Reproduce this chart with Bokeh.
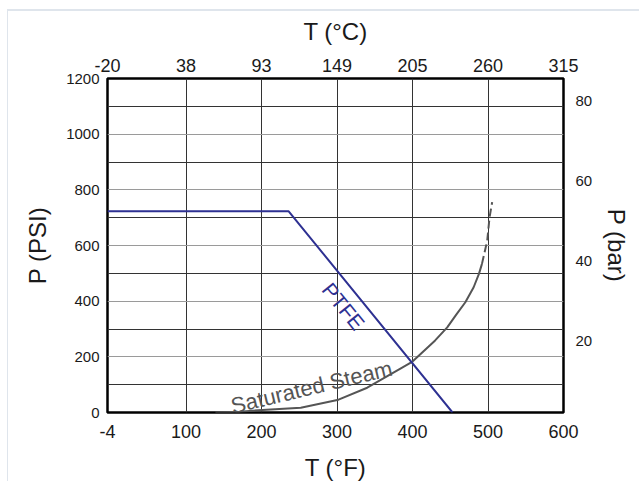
from bokeh.plotting import figure
from bokeh.models import LinearAxis, Range1d, FixedTicker, Grid, Label
from bokeh.embed import file_html
from bokeh.resources import INLINE

# ---- data ----
temp_f_ticks = [-4, 100, 200, 300, 400, 500, 600]
temp_f_labels = ["-4", "100", "200", "300", "400", "500", "600"]
temp_c_labels = ["-20", "38", "93", "149", "205", "260", "315"]
psi_ticks = [0, 200, 400, 600, 800, 1000, 1200]
psi_minor = [100, 300, 500, 700, 900, 1100]
bar_ticks = [20, 40, 60, 80]

ptfe_t = [-4, 236, 453]
ptfe_p = [723, 723, 0]

steam_t = [139, 171, 201, 252, 302, 340, 384, 400, 430, 446, 457, 470, 481, 488, 492]
steam_p = [0, 3, 9, 17, 46, 89, 158, 183, 259, 306, 348, 396, 450, 498, 534]
steam_dash_t = [492, 499, 502, 505.5]
steam_dash_p = [534, 618, 700, 756]

FONT = "Liberation Sans"
BLUE = "#2e3192"
GREY = "#555555"

p = figure(width=632, height=472, output_backend="svg", toolbar_location=None,
           x_range=Range1d(-4, 600), y_range=Range1d(0, 1200),
           min_border_left=99, min_border_right=77, min_border_top=67, min_border_bottom=71,
           background_fill_color="white", border_fill_color="white")
p.styles = {"margin-left": "8px", "margin-top": "11px", "box-shadow": "-1px -2px 0 0 #dfe5ec"}

p.outline_line_color = "black"
p.outline_line_width = 2.5
p.outline_line_alpha = 1

# grids
p.xgrid.ticker = FixedTicker(ticks=temp_f_ticks[1:-1])
p.xgrid.grid_line_color = "#333333"
p.xgrid.grid_line_width = 1
p.ygrid.ticker = FixedTicker(ticks=psi_ticks[1:-1])
p.ygrid.grid_line_color = "#9a9a9a"
p.ygrid.grid_line_width = 1.2
p.add_layout(Grid(dimension=1, ticker=FixedTicker(ticks=psi_minor),
                  grid_line_color="#333333", grid_line_width=1))


def style_axis(ax, size, label_standoff, title_standoff):
    ax.axis_line_color = None
    ax.major_tick_line_color = None
    ax.minor_tick_line_color = None
    ax.major_label_text_font = FONT
    ax.major_label_text_font_size = size
    ax.major_label_text_color = "#1a1a1a"
    ax.major_label_standoff = label_standoff
    ax.axis_label_text_font = FONT
    ax.axis_label_text_font_size = "24px"
    ax.axis_label_text_font_style = "normal"
    ax.axis_label_text_color = "#1a1a1a"
    ax.axis_label_standoff = title_standoff


xb = p.xaxis[0]
xb.ticker = FixedTicker(ticks=temp_f_ticks)
xb.major_label_overrides = {t: s for t, s in zip(temp_f_ticks, temp_f_labels)}
xb.axis_label = "T (°F)"
style_axis(xb, "18px", 6, 13)

yl = p.yaxis[0]
yl.ticker = FixedTicker(ticks=psi_ticks)
yl.axis_label = "P (PSI)"
style_axis(yl, "15px", 2, 12)

xt = LinearAxis(ticker=FixedTicker(ticks=temp_f_ticks),
                major_label_overrides={t: c for t, c in zip(temp_f_ticks, temp_c_labels)},
                axis_label="T (°C)")
style_axis(xt, "18px", 1, 11)
p.add_layout(xt, "above")

p.extra_y_ranges = {"bar": Range1d(2.16, 85.5)}
yr = LinearAxis(y_range_name="bar", ticker=FixedTicker(ticks=bar_ticks), axis_label="P (bar)")
style_axis(yr, "15px", 6, 8)
p.add_layout(yr, "right")

# curves
p.line(steam_t, steam_p, line_color=GREY, line_width=2)
p.line(steam_dash_t, steam_dash_p, line_color=GREY, line_width=2, line_dash="8 4")
p.line(ptfe_t, ptfe_p, line_color=BLUE, line_width=2)

p.add_layout(Label(x=308.6, y=381, text="PTFE", angle=-50.9, angle_units="deg",
                   text_align="center", text_baseline="middle",
                   text_font=FONT, text_font_size="21px", text_color=BLUE))
p.add_layout(Label(x=160, y=22, text="Saturated Steam", angle=13.5, angle_units="deg",
                   text_align="left", text_baseline="alphabetic",
                   text_font=FONT, text_font_size="22px", text_color=GREY))

open("out.html", "w").write(file_html(p, INLINE))
